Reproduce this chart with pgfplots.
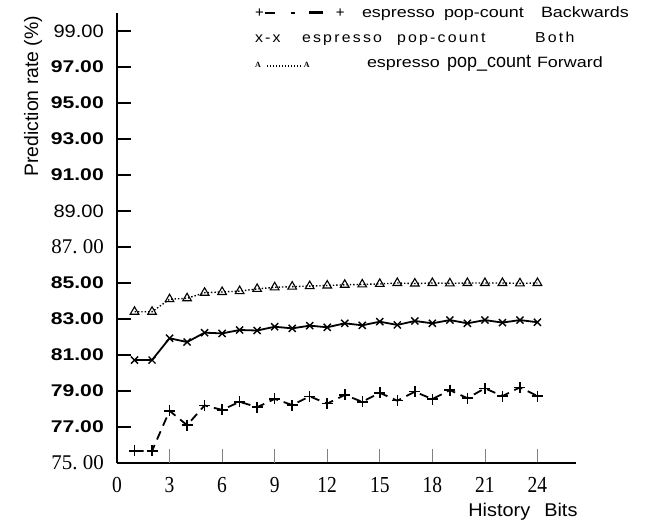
\documentclass[border=0pt]{standalone}
\usepackage{fontspec}
\setmainfont{Liberation Serif}
\setsansfont{Liberation Sans}
\usepackage{graphicx}
\usepackage{pgfplots}
\pgfplotsset{compat=1.18}

% label styles
\newcommand{\bsf}[1]{\scalebox{1.25}[1]{\fontsize{17}{17}\selectfont\sffamily\bfseries #1}}
\newcommand{\rsf}[1]{\scalebox{1.12}[1]{\fontsize{18}{18}\selectfont\sffamily #1}}
\newcommand{\tms}[1]{\fontsize{21}{21}\selectfont\rmfamily #1}
\newcommand{\xtl}[1]{\scalebox{0.85}[1]{\fontsize{23}{23}\selectfont\rmfamily #1}}
\newcommand{\lf}{\fontsize{15}{15}\selectfont\sffamily}
\newcommand{\sx}[1]{\scalebox{1.2}[1]{\lf #1}}
\newfontfamily\spacedsans[LetterSpace=14]{Liberation Sans}
\newcommand{\spc}[1]{\scalebox{1.1}[1]{\fontsize{14.5}{14.5}\selectfont\spacedsans #1}}
\newcommand{\tinyA}{{\fontsize{8}{8}\selectfont\rmfamily\bfseries A}}
\newcommand{\dotrow}{\foreach \i in {1,...,12}{\rule[0.5bp]{0.9bp}{2.6bp}\hspace{2.1bp}}}

\begin{document}
\begin{tikzpicture}
\begin{axis}[
  width=459bp, height=450bp, scale only axis,
  xmin=0, xmax=26.2, ymin=75, ymax=100,
  axis lines=left,
  axis line style={-},
  x axis line style={-, line width=2.8bp},
  y axis line style={-, line width=2.2bp},
  clip=false,
  tick align=inside,
  major tick length=14bp,
  xtick={0,6,12,15,18,21,24},
  xticklabels={\xtl{0},\xtl{6},\xtl{12},\xtl{15},\xtl{18},\xtl{21},\xtl{24}},
  extra x ticks={3,9},
  extra x tick labels={\xtl{3},\xtl{9}},
  extra x tick style={major tick style={black, line width=1.8bp}},
  x tick style={gray, line width=0.8bp},
  xticklabel style={anchor=north, inner sep=0pt, yshift=-14bp},
  ytick={75,77,...,99},
  yticklabels={\tms{75.\ 00},\bsf{77.00},\bsf{79.00},\bsf{81.00},\bsf{83.00},\bsf{85.00},\tms{87.\ 00},\rsf{89.00},\bsf{91.00},\bsf{93.00},\bsf{95.00},\bsf{97.00},\rsf{99.00}},
  y tick style={black, line width=1.3bp},
  yticklabel style={anchor=east, inner sep=0pt, xshift=-13bp},
  ylabel={\fontsize{19.5}{19.5}\selectfont\sffamily Prediction rate (\%)},
  ylabel style={at={(axis description cs:-0.183,0.815)}, anchor=center},
  xlabel={\scalebox{1.08}[1]{\fontsize{18.5}{18.5}\selectfont\sffamily History\hspace{13bp}Bits}},
  xlabel style={at={(axis description cs:0.765,-0.118)}, anchor=base west, inner sep=0pt},
  legend style={draw=none, fill=none, inner sep=0pt, outer sep=0pt,
    at={(axis description cs:0.3007,1.014)}, anchor=north west,
    nodes={inner sep=0pt, text height=11bp, text depth=3bp},
    row sep=11bp, column sep=0pt,
    /tikz/every even column/.style={column sep=0pt}},
  legend cell align=left,
  legend image code/.code={},
]
% Backwards
\addplot[black, line width=1.8bp, dash pattern=on 9bp off 6bp,
  mark=+, mark size=5.5bp, mark options={solid, line width=1.5bp}] coordinates {
  (1,75.67) (2,75.67) (3,77.90) (4,77.10) (5,78.20) (6,77.95) (7,78.40) (8,78.10)
  (9,78.56) (10,78.22) (11,78.70) (12,78.30) (13,78.78) (14,78.40) (15,78.90)
  (16,78.46) (17,78.96) (18,78.55) (19,79.05) (20,78.60) (21,79.15) (22,78.72)
  (23,79.20) (24,78.72)};
\addlegendentry{\makebox[107bp][l]{\lf +\hspace{1bp}\rule[4bp]{10bp}{1.6bp}\hspace{16bp}\rule[4bp]{4bp}{1.4bp}\hspace{14bp}\rule[3.3bp]{14bp}{3.6bp}\hspace{13bp}+}\makebox[82bp][l]{\sx{espresso}}\makebox[97bp][l]{\sx{pop-count}}\sx{Backwards}}
% Both
\addplot[black, line width=1.8bp, mark=x, mark size=5bp,
  mark options={line width=1.4bp}] coordinates {
  (1,80.72) (2,80.72) (3,81.93) (4,81.72) (5,82.24) (6,82.20) (7,82.39) (8,82.36)
  (9,82.57) (10,82.48) (11,82.63) (12,82.54) (13,82.76) (14,82.65) (15,82.85)
  (16,82.67) (17,82.89) (18,82.76) (19,82.94) (20,82.76) (21,82.94) (22,82.80)
  (23,82.94) (24,82.82)};
\addlegendentry{\makebox[47bp][l]{\spc{x-x}}\makebox[95bp][l]{\spc{espresso}}\makebox[138bp][l]{\spc{pop-count}}\spc{Both}}
% Forward
\addplot[black, line width=1.4bp, dotted, mark=triangle, mark size=5bp,
  mark options={solid, line width=1.1bp}] coordinates {
  (1,83.40) (2,83.40) (3,84.10) (4,84.15) (5,84.46) (6,84.50) (7,84.55) (8,84.67)
  (9,84.76) (10,84.80) (11,84.83) (12,84.86) (13,84.90) (14,84.92) (15,84.95)
  (16,85.00) (17,84.97) (18,85.00) (19,84.98) (20,85.00) (21,85.00) (22,85.00)
  (23,84.98) (24,85.00)};
\addlegendentry{\makebox[112bp][l]{\tinyA\hspace{6bp}\dotrow\hspace{1bp}\tinyA}\makebox[80bp][l]{\sx{espresso}}\makebox[90bp][l]{\scalebox{0.95}[1]{\fontsize{19}{19}\selectfont\sffamily pop\_count}}\sx{Forward}}
\coordinate (O) at (rel axis cs:0,0);
\end{axis}
\path ([shift={(-117bp,-62bp)}]O) rectangle ([shift={(530bp,463bp)}]O);
\end{tikzpicture}
\end{document}
